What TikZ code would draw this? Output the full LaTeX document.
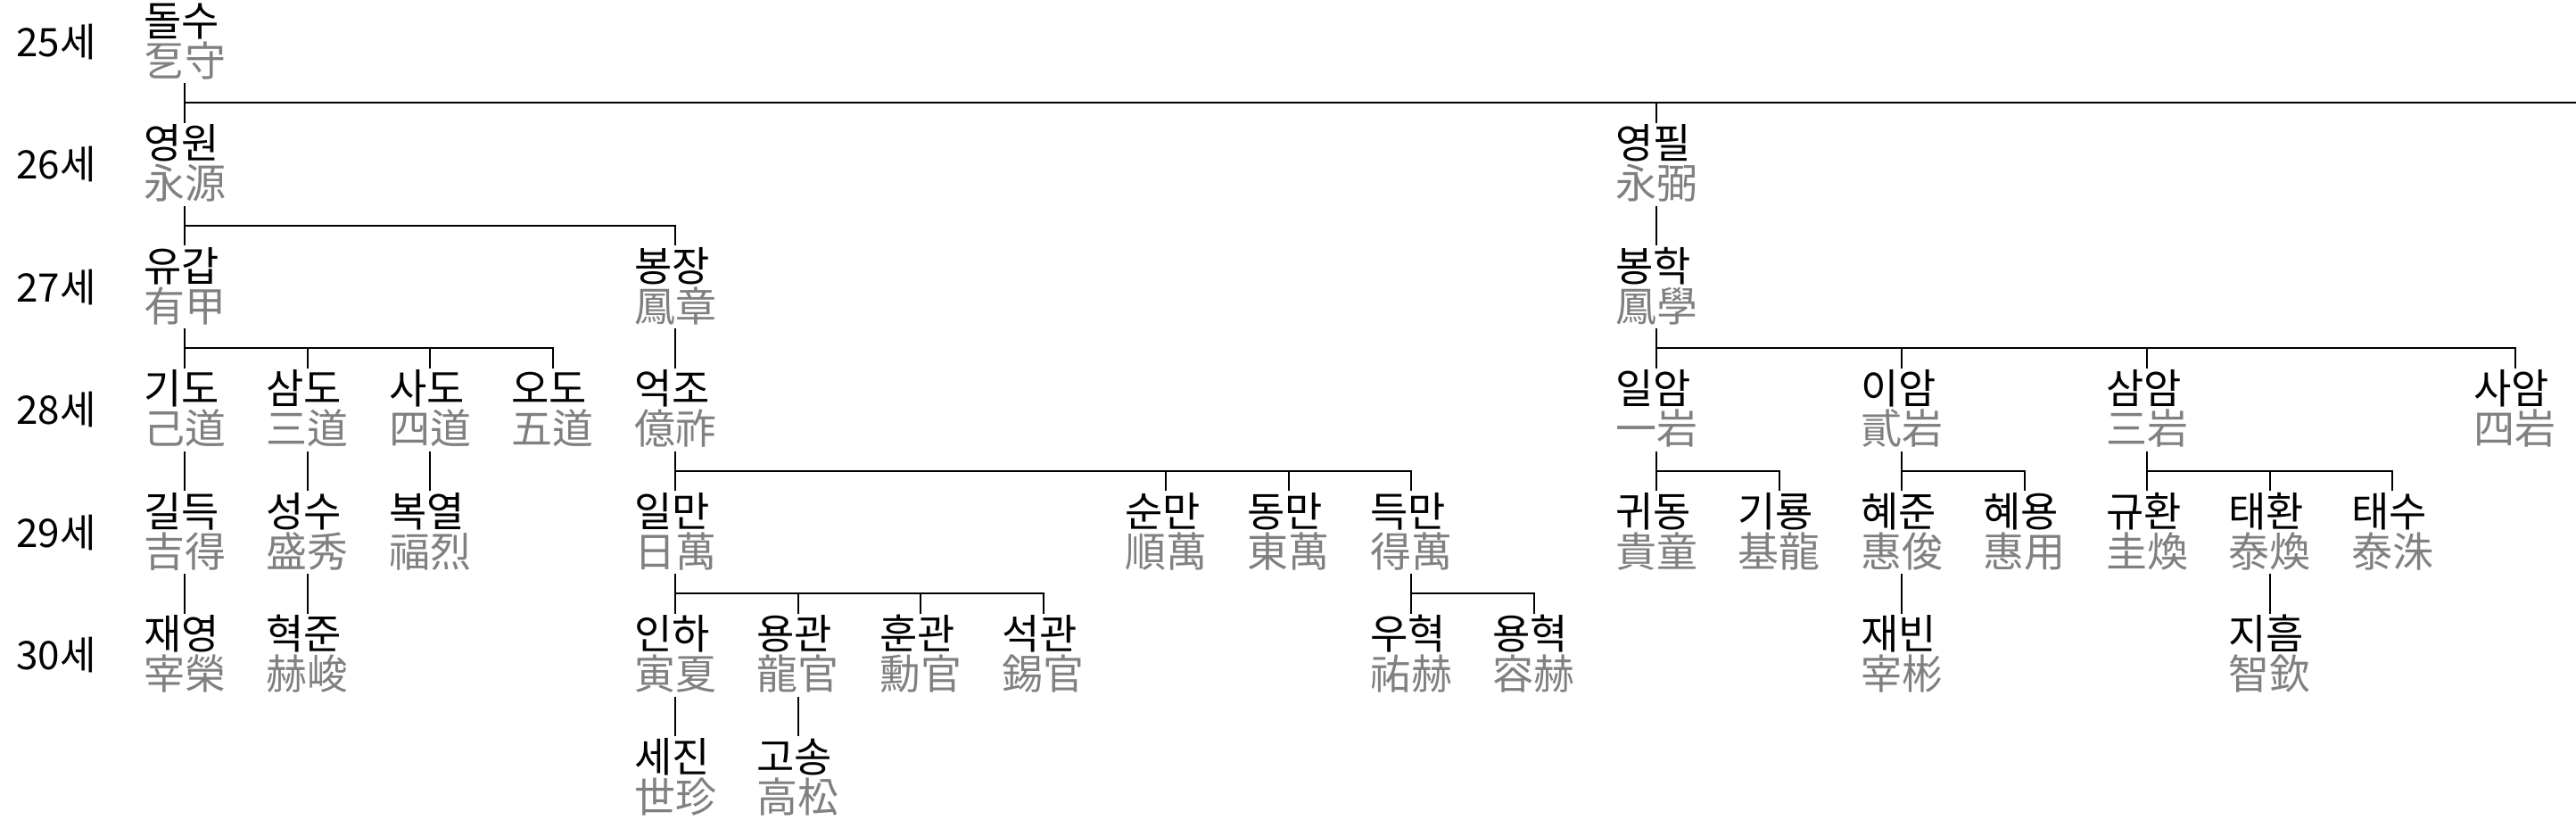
\documentclass[tikz,border=0pt]{standalone}
\usepackage{fontspec}
\usepackage{xcolor}
\usepackage{tikz}
\usetikzlibrary{calc}
\newfontfamily\kr{Noto Sans CJK KR}
\definecolor{hanja}{gray}{0.5}
\newcommand{\pn}[2]{\vbox{\baselineskip=45pt\lineskiplimit=-100pt\hbox{#1}\hbox{\color{hanja}#2}}}
\tikzset{
  pers/.style={font=\kr\fontsize{46pt}{45pt}\selectfont, inner sep=0pt, anchor=north, text height=85pt, text depth=8pt},
  gen/.style={font=\kr\fontsize{44pt}{44pt}\selectfont, inner sep=0pt, anchor=west},
  link/.style={line width=2pt},
}

\begin{document}
\begin{tikzpicture}[x=137.5pt, y=-137.5pt]
            \useasboundingbox (-1.5055,0) rectangle (19.4982,6.6836);

            % generations
            \foreach \r in {0,...,5} {
                \pgfmathtruncatemacro\g{25+\r}
                \node[gen] (gen\g) at (-1.3745,\r+0.34) {\g{}세};
            }

            % persons
            \foreach \n/\c/\r/\k/\h in {
                    dolsu/0/0/돌수/乭守,
                    yeongwon/0/1/영원/永源, yeongpil/12/1/영필/永弼,
                    yugap/0/2/유갑/有甲, bongjang/4/2/봉장/鳳章, bonghak/12/2/봉학/鳳學,
                    gido/0/3/기도/己道, samdo/1/3/삼도/三道, sado/2/3/사도/四道, odo/3/3/오도/五道,
                    eokjo/4/3/억조/億祚, ilam/12/3/일암/一岩, iam/14/3/이암/貳岩,
                    samam/16/3/삼암/三岩, saam/19/3/사암/四岩,
                    gildeuk/0/4/길득/吉得, seongsu/1/4/성수/盛秀, bogyeol/2/4/복열/福烈,
                    ilman/4/4/일만/日萬, sunman/8/4/순만/順萬, dongman/9/4/동만/東萬, deukman/10/4/득만/得萬,
                    gwidong/12/4/귀동/貴童, giryong/13/4/기룡/基龍, hyejun/14/4/혜준/惠俊, hyeyong/15/4/혜용/惠用,
                    gyuhwan/16/4/규환/圭煥, taehwan/17/4/태환/泰煥, taesu/18/4/태수/泰洙,
                    jaeyeong/0/5/재영/宰榮, hyeokjun/1/5/혁준/赫峻,
                    inha/4/5/인하/寅夏, yonggwan/5/5/용관/龍官, hungwan/6/5/훈관/勳官, seokgwan/7/5/석관/錫官,
                    uhyeok/10/5/우혁/祐赫, yonghyeok/11/5/용혁/容赫, jaebin/14/5/재빈/宰彬, jiheum/17/5/지흠/智欽,
                    sejin/4/6/세진/世珍, gosong/5/6/고송/高松} {
                \node[pers] (\n) at (\c,\r) {\pn{\k}{\h}};
            }

            % lines of descent
            \foreach \p/\k in {
                    dolsu/yeongwon, dolsu/yeongpil,
                    yeongwon/yugap, yeongwon/bongjang, yeongpil/bonghak,
                    yugap/gido, yugap/samdo, yugap/sado, yugap/odo, bongjang/eokjo,
                    bonghak/ilam, bonghak/iam, bonghak/samam, bonghak/saam,
                    gido/gildeuk, samdo/seongsu, sado/bogyeol,
                    eokjo/ilman, eokjo/sunman, eokjo/dongman, eokjo/deukman,
                    ilam/gwidong, ilam/giryong, iam/hyejun, iam/hyeyong,
                    samam/gyuhwan, samam/taehwan, samam/taesu,
                    gildeuk/jaeyeong, seongsu/hyeokjun,
                    ilman/inha, ilman/yonggwan, ilman/hungwan, ilman/seokgwan,
                    deukman/uhyeok, deukman/yonghyeok, hyejun/jaebin, taehwan/jiheum,
                    inha/sejin, yonggwan/gosong} {
                \draw[link] (\p.south) -- ($(\p.south)!.5!(\p.south |- \k.north)$) -| (\k.north);
            }

            % top line runs on to the edge
            \coordinate (rim) at (19.4982,1);
            \path ($(dolsu.south)!.5!(yeongwon.north)$) coordinate (bar0);
            \draw[link] (bar0 -| yeongpil.north) -- (bar0 -| rim);
        \end{tikzpicture}
\end{document}
